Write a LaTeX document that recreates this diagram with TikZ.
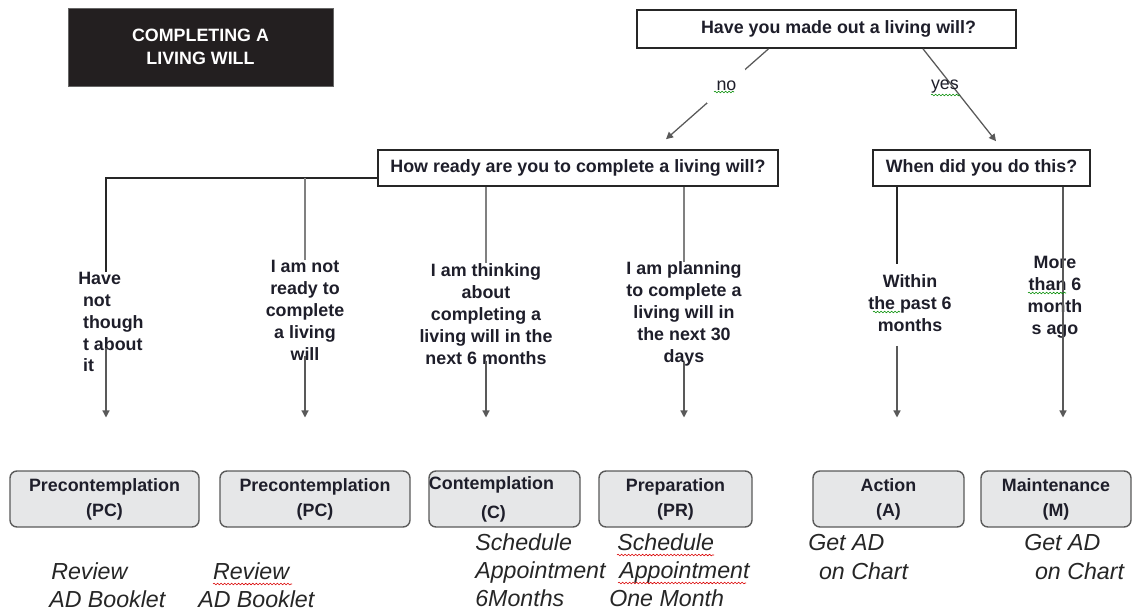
\documentclass[tikz,border=0pt]{standalone}
\usepackage{fontspec}
\setmainfont{Liberation Sans}
\usetikzlibrary{arrows.meta,calc,decorations.pathmorphing}

\definecolor{titlebg}{HTML}{231F20}
\definecolor{stagebg}{HTML}{E6E7E8}
\definecolor{stageline}{HTML}{5A5A5A}
\definecolor{inkblue}{HTML}{1E1E2A}

\newcommand{\lblfont}{\fontsize{12.7}{15.6}\selectfont\bfseries}
\newcommand{\notefont}{\fontsize{16.5}{20}\selectfont\itshape}

\tikzset{
  question/.style={rectangle, draw=black!85, line width=1.2pt, fill=white, minimum height=0.9cm, inner sep=0pt, font=\lblfont, text=inkblue},
  answer/.style={align=center, inner sep=0pt, font=\lblfont, text=inkblue},
  stage/.style={rectangle, rounded corners=5pt, draw=stageline, line width=1pt, fill=stagebg, minimum height=1.4cm, align=center, inner sep=0pt, font={\fontsize{12.7}{17.8}\selectfont\bfseries}, text=inkblue},
  note/.style={align=left, anchor=west, inner sep=0pt, font=\notefont, text=black!85},
  gline/.style={draw=black!50, line width=0.9pt},
  kline/.style={draw=black!85, line width=0.9pt},
  arr/.style={draw=black!65, line width=0.9pt, -{Triangle[length=5pt,width=5pt]}},
  spellred/.style={draw=red!85!black, line width=0.4pt, decorate, decoration={snake, segment length=2.5pt, amplitude=0.6pt}},
  spellgreen/.style={spellred, draw=green!55!black},
}

\begin{document}
\begin{tikzpicture}[x=0.025cm, y=-0.025cm]
\useasboundingbox (0,0) rectangle (1133,614);

% title
\node[rectangle, fill=titlebg, draw=black!60, minimum width=6.625cm, minimum height=1.95cm, align=center, text=white, font={\fontsize{12.7}{16.4}\selectfont\bfseries}] (title) at (200.5,47) {COMPLETING A\\LIVING WILL};

% questions
\node[question, minimum width=9.475cm, minimum height=0.95cm] (have) at (826.5,29) {\hspace*{0.6cm}Have you made out a living will?};
\node[question, minimum width=10cm] (ready) at (578,168) {How ready are you to complete a living will?};
\node[question, minimum width=5.425cm] (when) at (981.5,168) {When did you do this?};

% answers
\node[answer, align=left, anchor=west] (a1) at (78,322) {Have\\\hspace*{0.12cm}not\\\hspace*{0.12cm}though\\\hspace*{0.12cm}t about\\\hspace*{0.12cm}it};
\node[answer] (a2) at (305,310) {I am not\\ready to\\complete\\a living\\will};
\node[answer] (a3) at (486,314) {I am thinking\\about\\completing a\\living will in the\\next 6 months};
\node[answer] (a4) at (684,314) {I am planning\\to complete a\\living will in\\the next 30\\days};
\node[answer] (a5) at (910,303) {Within\\the past 6\\months};
\node[answer] (a6) at (1055,297) {More\\than 6\\month\\s ago};

% stages
\node[stage, minimum width=4.725cm] (s1) at (104.5,499) {Precontemplation\\(PC)};
\node[stage, minimum width=4.75cm] (s2) at (315,499) {Precontemplation\\(PC)};
\node[stage, minimum width=3.775cm] (s3) at (504.5,499) {Contemplation\hspace*{0.65cm}\\[3pt](C)\hspace*{0.55cm}};
\node[stage, minimum width=3.825cm] (s4) at (675.5,499) {Preparation\\(PR)};
\node[stage, minimum width=3.775cm] (s5) at (888.5,499) {Action\\(A)};
\node[stage, minimum width=3.75cm] (s6) at (1056,499) {Maintenance\\(M)};

% notes under the stages
\node[note] (n1) at (49,585) {\hspace*{0.05cm}Review\\AD Booklet};
\node[note] (n2) at (198,585) {\hspace*{0.37cm}Review\\AD Booklet};
\node[note] (n3) at (475,570) {Schedule\\Appointment\\6Months};
\node[note] (n4) at (609,570) {\hspace*{0.2cm}Schedule\\\hspace*{0.25cm}Appointment\\One Month};
\node[note] (n5) at (808,557) {Get AD\\\hspace*{0.27cm}on Chart};
\node[note] (n6) at (1024,557) {Get AD\\\hspace*{0.27cm}on Chart};

% column positions
\coordinate (c1) at (106,0);
\coordinate (c2) at (305,0);
\coordinate (c3) at (486,0);
\coordinate (c4) at (684,0);
\coordinate (c5) at (897,0);
\coordinate (c6) at (1063,0);

% first question
\draw[arr] ($(have.south)+(-58,0)$) -- node[pos=0.41, fill=white, minimum width=0.95cm, minimum height=0.85cm, inner sep=0pt, font={\fontsize{12.7}{15}\selectfont}, text=inkblue] (no) {no} ($(ready.north)+(88,-10)$);
\draw[arr] ($(have.south)+(96.5,0)$) -- node[pos=0.41, xshift=-0.2cm, inner sep=0pt, font={\fontsize{12.7}{15}\selectfont}, text=inkblue] (yes) {yes} ($(when.north)+(14.5,-8)$);

% branches to the answers
\draw[kline] ([yshift=-0.25cm]ready.west) -| (c1 |- a1.north);
\draw[gline] ([yshift=-0.25cm]ready.west -| c2) -- (c2 |- a2.north);
\draw[gline] (ready.south -| c3) -- (c3 |- a3.north);
\draw[gline] (ready.south -| c4) -- (c4 |- a4.north);
\draw[kline] (when.south -| c5) -- ([yshift=0.25cm]a5.north -| c5);

% answers to stages
\draw[arr, shorten >=1.32cm] ([yshift=0.6cm]a1.south -| c1) -- (s1.north -| c1);
\draw[arr, shorten >=1.32cm] ([yshift=0.1cm]a2.south -| c2) -- (s2.north -| c2);
\draw[arr, shorten >=1.32cm] ([yshift=0.1cm]a3.south -| c3) -- (s3.north -| c3);
\draw[arr, shorten >=1.32cm] ([yshift=0.1cm]a4.south -| c4) -- (s4.north -| c4);
\draw[arr, shorten >=1.32cm] ([yshift=-0.35cm]a5.south -| c5) -- (s5.north -| c5);
\draw[arr, shorten >=1.32cm] (when.south -| c6) -- (s6.north -| c6);

% spelling marks
\draw[spellgreen] (714,92) -- (734,92);
\draw[spellgreen] (931,95) -- (960,95);
\draw[spellgreen] (873,312) -- (900,312);
\draw[spellgreen] (1028,293) -- (1066,293);
\draw[spellred] (213,584) -- (292,584);
\draw[spellred] (617,555) -- (714,555);
\draw[spellred] (618,583) -- (746,583);
\end{tikzpicture}
\end{document}
